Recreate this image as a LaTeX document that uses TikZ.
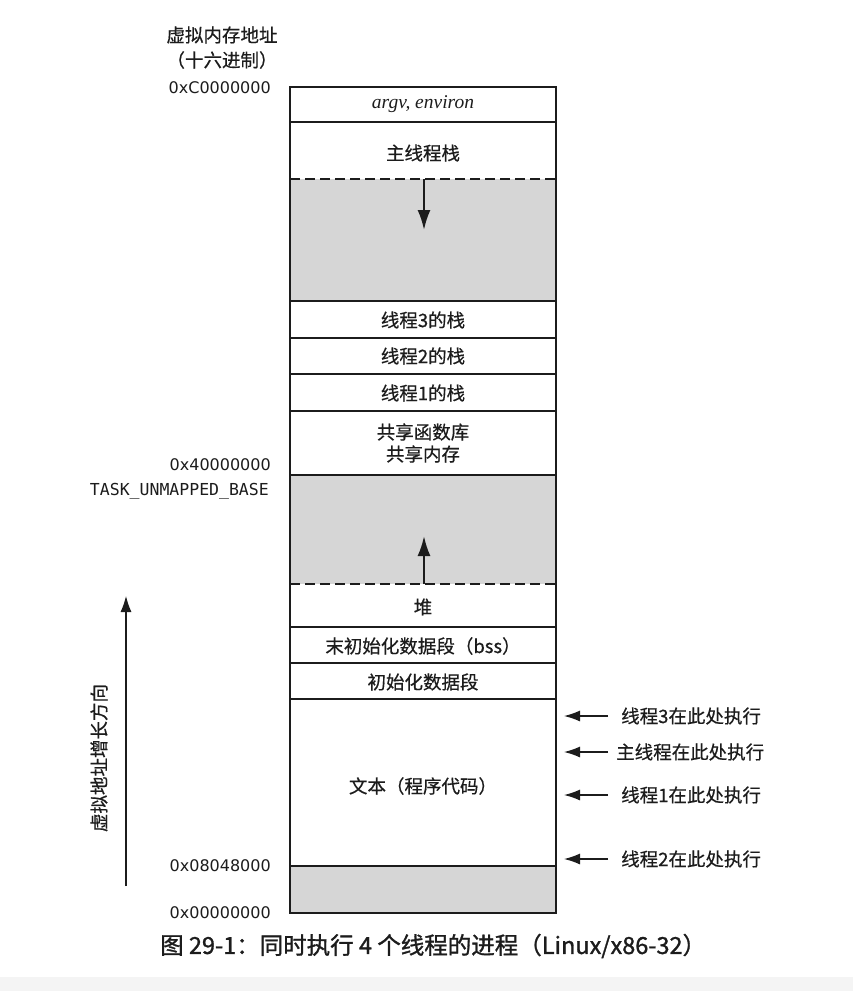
\documentclass[tikz,border=0pt]{standalone}
\usepackage{fontspec}
\setmainfont{Liberation Serif}
\newfontfamily\cjk[FakeBold=0.5]{Noto Sans CJK SC}
\newfontfamily\cjkcap[FakeBold=1.2]{Noto Sans CJK SC}
\newfontfamily\addr{DejaVu Sans}
\newfontfamily\addrmono{DejaVu Sans Mono}
\usetikzlibrary{arrows.meta}
\definecolor{ink}{HTML}{1C1C1C}
\definecolor{greyfill}{HTML}{D6D6D6}
\definecolor{band}{HTML}{F4F4F4}
\tikzset{
  segtext/.style={font=\cjk\fontsize{18.5}{22}\selectfont, text=ink, inner sep=0pt, align=center},
  addrlabel/.style={font=\addr\fontsize{16}{19}\selectfont, text=ink, inner sep=0pt, anchor=east},
  thrlabel/.style={font=\cjk\fontsize{18.5}{22}\selectfont, text=ink, inner sep=0pt, anchor=west},
  boxline/.style={draw=ink, line width=1.8pt},
  dashline/.style={draw=ink, line width=1.8pt, dash pattern=on 10pt off 5pt},
  growarrow/.style={draw=ink, line width=2.2pt, -{Latex[length=20pt,width=13pt]}},
  ptrarrow/.style={draw=ink, line width=1.3pt, -{Latex[length=16pt,width=11pt]}},
}
\begin{document}
\begin{tikzpicture}[x=1pt,y=-1pt]
\useasboundingbox (0,0) rectangle (853,991);
\fill[white] (0,0) rectangle (853,991);
\fill[band] (0,977) rectangle (853,991);
% gray regions
\fill[greyfill] (290,179) rectangle (556,301);
\fill[greyfill] (290,475) rectangle (556,584);
\fill[greyfill] (290,866) rectangle (556,913);
% boundaries
\foreach \yy in {122,301,338,374,411,475,627,663,699,866}
  \draw[boxline] (290,\yy) -- (556,\yy);
\draw[dashline] (290,179) -- (556,179);
\draw[dashline] (290,584) -- (556,584);
\draw[boxline] (290,87) rectangle (556,913);
% segment texts
\node[font=\itshape\fontsize{19.5}{22}\selectfont, text=ink, inner sep=0pt] (argv) at (423,104) {argv, environ};
\node[segtext] (mainstack) at (423,153) {主线程栈};
\node[segtext] (t3stack) at (423,320) {线程3的栈};
\node[segtext] (t2stack) at (423,356) {线程2的栈};
\node[segtext] (t1stack) at (423,393) {线程1的栈};
\node[segtext] (shlib) at (423,443) {共享函数库\\共享内存};
\node[segtext] (heap) at (423,607) {堆};
\node[segtext] (bss) at (423,646) {末初始化数据段（bss）};
\node[segtext] (data) at (423,682) {初始化数据段};
\node[segtext] (text) at (423,786) {文本（程序代码）};
% growth arrows
\coordinate (stacktop) at (424,179);
\coordinate (stackgrow) at (424,230);
\coordinate (heaptop) at (424,584);
\coordinate (heapgrow) at (424,536);
\draw[growarrow] (stacktop) -- (stackgrow);
\draw[growarrow] (heaptop) -- (heapgrow);
% left labels
\node[segtext] (vtitle) at (222,35) {虚拟内存地址};
\node[segtext] (vsub) at (222,60) {（十六进制）};
\node[addrlabel] (aC) at (271,88) {0xC0000000};
\node[addrlabel] (a4) at (271,465) {0x40000000};
\node[font=\addrmono\fontsize{16.5}{19}\selectfont, text=ink, inner sep=0pt, anchor=east] (tub) at (269,491) {TASK\_UNMAPPED\_BASE};
\node[addrlabel] (a08) at (271,866) {0x08048000};
\node[addrlabel] (a00) at (271,913) {0x00000000};
% growth direction
\coordinate (dirbot) at (126,886);
\coordinate (dirtop) at (126,596);
\draw[ptrarrow, line width=1.1pt] (dirbot) -- (dirtop);
\node[segtext, rotate=90] (dirlabel) at (99,758) {虚拟地址增长方向};
% thread pointers
\foreach \nm/\yy in {p3/716, pm/752, p1/795, p2/859}{
  \coordinate (\nm tail) at (608,\yy);
  \coordinate (\nm tip) at (564,\yy);
  \draw[ptrarrow] (\nm tail) -- (\nm tip);
}
\node[thrlabel] (l3) at (621,716) {线程3在此处执行};
\node[thrlabel] (lm) at (616,752) {主线程在此处执行};
\node[thrlabel] (l1) at (621,795) {线程1在此处执行};
\node[thrlabel] (l2) at (621,859) {线程2在此处执行};
% caption
\node[font=\cjkcap\fontsize{23.5}{27}\selectfont, text=ink, inner sep=0pt, anchor=west] (caption) at (160,946) {图 29-1：同时执行 4 个线程的进程（Linux/x86-32）};
\end{tikzpicture}
\end{document}
